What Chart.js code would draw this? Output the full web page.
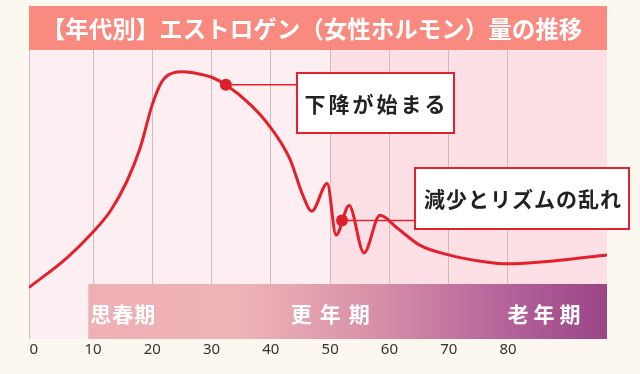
<!DOCTYPE html>
<html lang="ja">
<head>
<meta charset="utf-8">
<title>年代別エストロゲン量の推移</title>
<script src="https://cdn.jsdelivr.net/npm/chart.js@4"></script>
<style>
  html, body { margin: 0; padding: 0; background: #fcf7ef; }
  #wrap { width: 640px; height: 374px; }
</style>
</head>
<body>
<div id="wrap"><canvas id="estrogenChart" width="640" height="374"></canvas></div>
<script>
// 年齢とエストロゲン量（相対値）
const ages   = [-0.8, 5.6, 9.8, 12.9, 15.7, 17.9, 19.9, 20.8, 21.6, 22.5, 23.5, 25.0, 26.9, 30.2, 32.4, 36.5, 39.8, 43.2, 45.4, 46.9, 49.5, 51.0, 53.2, 55.7, 58.4, 61.3, 65.1, 70.0, 75.1, 80.0, 87.6, 96.7];
const levels = [17.8, 28.1, 36.6, 44.2, 54.5, 65.8, 80.5, 85.6, 89.0, 91.1, 92.1, 92.5, 92.1, 90.4, 88, 81.2, 73.6, 62.3, 49.7, 44.2, 53.8, 36, 46.2, 29.8, 42.8, 38.4, 32.5, 29.1, 27, 26, 27, 29.1];

// 注釈の点
const markerAges   = [32.4, 52.0];
const markerLevels = [88, 41];
const notes = ['下降が始まる', '減少とリズムの乱れ'];

const ageMin = -0.8;
const ageMax = 96.7;
const tickValues = [0, 10, 20, 30, 40, 50, 60, 70, 80];
const tickLabels = ['0', '10', '20', '30', '40', '50', '60', '70', '80'];
const phaseNames = ['思春期', '更年期', '老年期'];
const phaseStart = 9.2;
const titleText = '【年代別】エストロゲン（女性ホルモン）量の推移';

const JP = '"Noto Sans CJK JP", "Noto Sans", sans-serif';

const decor = {
    id: 'decor',
    beforeDraw(chart) {
        const { ctx, chartArea: a, scales: { x } } = chart;
        ctx.save();
        ctx.fillStyle = '#fcf7ef';
        ctx.fillRect(0, 0, chart.width, chart.height);

        // 背景（50歳から濃いピンク）
        const x50 = x.getPixelForValue(50);
        ctx.fillStyle = '#fdeef1';
        ctx.fillRect(a.left, a.top, x50 - a.left, a.bottom - a.top);
        ctx.fillStyle = '#fde0e5';
        ctx.fillRect(x50, a.top, a.right - x50, a.bottom - a.top);

        // タイトル帯
        ctx.fillStyle = '#f98a7f';
        ctx.fillRect(a.left, 6, a.right - a.left, a.top - 6);
        ctx.fillStyle = '#ffffff';
        ctx.font = 'bold 23.5px ' + JP;
        ctx.textAlign = 'center';
        ctx.textBaseline = 'middle';
        ctx.fillText(titleText, (a.left + a.right) / 2 - 6, 29);
        ctx.restore();
    },
    beforeDatasetsDraw(chart) {
        const { ctx, chartArea: a, scales: { x } } = chart;
        const left = x.getPixelForValue(phaseStart);
        const top = 284;
        ctx.save();
        const g = ctx.createLinearGradient(left, 0, a.right, 0);
        g.addColorStop(0, '#eeafb5');
        g.addColorStop(0.28, '#f0b4b8');
        g.addColorStop(0.55, '#d791a7');
        g.addColorStop(0.8, '#b5649b');
        g.addColorStop(1, '#9a4486');
        ctx.fillStyle = g;
        ctx.fillRect(left, top, a.right - left, a.bottom - top);

        ctx.fillStyle = '#ffffff';
        ctx.font = 'bold 21px ' + JP;
        ctx.textBaseline = 'middle';
        const cy = 314;
        ctx.textAlign = 'left';
        ctx.letterSpacing = '1px';
        ctx.fillText(phaseNames[0], left + 2, cy);
        ctx.textAlign = 'center';
        ctx.letterSpacing = '8px';
        ctx.fillText(phaseNames[1], x.getPixelForValue(50) + 4, cy);
        ctx.letterSpacing = '5px';
        ctx.fillText(phaseNames[2], x.getPixelForValue(86) + 3, cy);
        ctx.restore();
    },
    afterDraw(chart) {
        const { ctx, scales: { x, y } } = chart;
        const boxes = [
            { x: 297, y: 73, w: 157, h: 60, spacing: '3px' },
            { x: 415, y: 168, w: 214, h: 61, spacing: '1px' }
        ];
        ctx.save();
        boxes.forEach((b, i) => {
            const px = x.getPixelForValue(markerAges[i]);
            const py = y.getPixelForValue(markerLevels[i]);
            ctx.strokeStyle = '#e3222d';
            ctx.lineWidth = 1.5;
            ctx.beginPath();
            ctx.moveTo(px, py);
            ctx.lineTo(b.x, py);
            ctx.stroke();

            ctx.fillStyle = '#ffffff';
            ctx.fillRect(b.x, b.y, b.w, b.h);
            ctx.lineWidth = 2;
            ctx.strokeRect(b.x, b.y, b.w, b.h);

            ctx.fillStyle = '#222222';
            ctx.font = 'bold 21px ' + JP;
            ctx.textAlign = 'center';
            ctx.textBaseline = 'middle';
            ctx.letterSpacing = b.spacing;
            ctx.fillText(notes[i], b.x + b.w / 2 + 1, b.y + b.h / 2 + 1);
        });
        ctx.restore();
    }
};

new Chart(document.getElementById('estrogenChart'), {
    type: 'line',
    data: {
        datasets: [{
            label: 'マーカー',
            type: 'scatter',
            data: markerAges.map((a, i) => ({ x: a, y: markerLevels[i] })),
            pointRadius: 6,
            pointBackgroundColor: '#dc1f2b',
            pointBorderWidth: 0,
            order: 0
        }, {
            label: 'エストロゲン',
            data: ages.map((a, i) => ({ x: a, y: levels[i] })),
            borderColor: '#e3202b',
            borderWidth: 3,
            pointRadius: 0,
            cubicInterpolationMode: 'monotone',
            fill: false,
            order: 1
        }]
    },
    options: {
        responsive: false,
        animation: false,
        layout: { padding: { top: 50, left: 29, right: 33, bottom: 13 } },
        plugins: {
            legend: { display: false },
            tooltip: { enabled: false }
        },
        scales: {
            x: {
                type: 'linear',
                min: ageMin,
                max: ageMax,
                afterBuildTicks(scale) {
                    scale.ticks = [ageMin].concat(tickValues, [ageMax]).map(v => ({ value: v }));
                },
                ticks: {
                    padding: 2,
                    color: '#333333',
                    font: { family: '"Noto Sans", sans-serif', size: 15 },
                    callback(value, index) {
                        return index >= 1 && index <= tickLabels.length ? tickLabels[index - 1] : '';
                    }
                },
                grid: {
                    drawTicks: false,
                    lineWidth: 1,
                    color: ctx => {
                        if (!ctx.tick) return '#cbbcc0';
                        const v = ctx.tick.value;
                        return (v === 0 || v > 80) ? 'rgba(0,0,0,0)' : '#cbbcc0';
                    }
                },
                border: { display: false }
            },
            y: {
                display: false,
                min: 0,
                max: 100
            }
        }
    },
    plugins: [decor]
});
</script>
</body>
</html>
